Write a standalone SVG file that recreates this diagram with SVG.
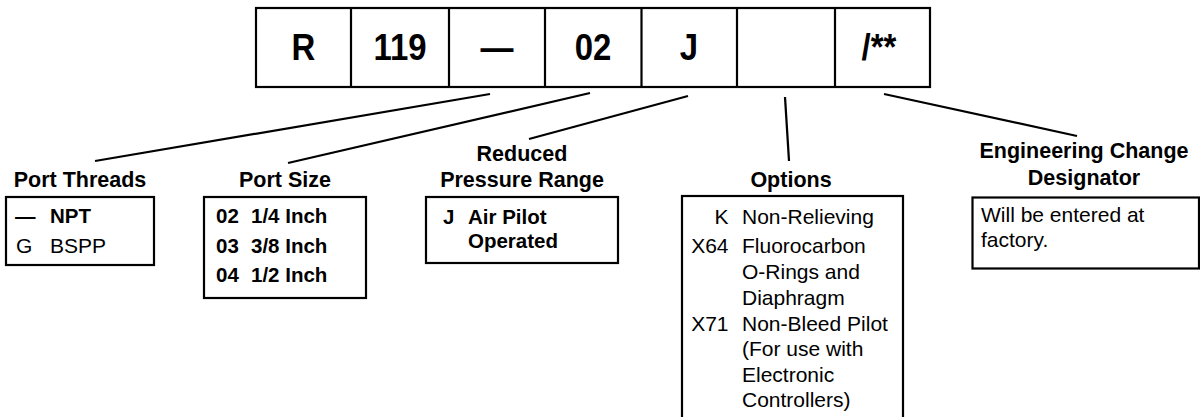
<svg xmlns="http://www.w3.org/2000/svg" width="1200" height="417" viewBox="0 0 1200 417">
<style>
text{font-family:"Liberation Sans",Arial,sans-serif;fill:#000}
.big{font-size:37px;font-weight:bold;text-anchor:middle}
.hd{font-size:21.5px;font-weight:bold;text-anchor:middle}
.b{font-size:20.5px;font-weight:bold}
.r{font-size:21px}
.box{fill:#fff;stroke:#000;stroke-width:2.2}
.ln{stroke:#000;stroke-width:2.2;fill:none}
</style>
<rect width="1200" height="417" fill="#fff"/>
<g id="code">
<rect class="box" x="256" y="8" width="674" height="79"/>
<path class="ln" d="M351 8V87M449 8V87M545 8V87M641.5 8V87M737 8V87M835 8V87"/>
<text class="big" transform="translate(303.5 60) scale(0.89 1)">R</text>
<text class="big" transform="translate(400 60) scale(0.89 1)">119</text>
<text class="big" transform="translate(497 60) scale(0.89 1)">—</text>
<text class="big" transform="translate(593 60) scale(0.89 1)">02</text>
<text class="big" transform="translate(689 60) scale(0.89 1)">J</text>
<text class="big" transform="translate(879 60) scale(0.89 1)">/**</text>
</g>
<g id="connectors">
<line class="ln" x1="490" y1="94" x2="95" y2="161"/>
<line class="ln" x1="590" y1="93" x2="288" y2="163"/>
<line class="ln" x1="688" y1="96" x2="529" y2="139"/>
<line class="ln" x1="785" y1="97" x2="789" y2="161"/>
<line class="ln" x1="884" y1="94" x2="1077" y2="136"/>
</g>
<g id="port-threads">
<text class="hd" x="80" y="187">Port Threads</text>
<rect class="box" x="6" y="197" width="148" height="68"/>
<text class="b" x="15" y="223">—</text>
<text class="b" x="50" y="223">NPT</text>
<text class="r" x="16" y="252.5">G</text>
<text class="r" x="50" y="252.5">BSPP</text>
</g>
<g id="port-size">
<text class="hd" x="285" y="187">Port Size</text>
<rect class="box" x="204" y="197" width="162" height="101"/>
<text class="b" x="216" y="223">02</text>
<text class="b" x="251" y="223">1/4 Inch</text>
<text class="b" x="216" y="252.5">03</text>
<text class="b" x="251" y="252.5">3/8 Inch</text>
<text class="b" x="216" y="281.5">04</text>
<text class="b" x="251" y="281.5">1/2 Inch</text>
</g>
<g id="pressure-range">
<text class="hd" x="522" y="161">Reduced</text>
<text class="hd" x="522" y="187">Pressure Range</text>
<rect class="box" x="426" y="197" width="192" height="66"/>
<text class="b" x="443" y="224">J</text>
<text class="b" x="468" y="224">Air Pilot</text>
<text class="b" x="468" y="248">Operated</text>
</g>
<g id="options">
<text class="hd" x="791" y="187">Options</text>
<rect class="box" x="682" y="196" width="221" height="230"/>
<text class="r" x="728.5" y="224" text-anchor="end">K</text>
<text class="r" x="742" y="224">Non-Relieving</text>
<text class="r" x="728.5" y="253" text-anchor="end">X64</text>
<text class="r" x="742" y="253">Fluorocarbon</text>
<text class="r" x="742" y="279">O-Rings and</text>
<text class="r" x="742" y="305">Diaphragm</text>
<text class="r" x="728.5" y="330.5" text-anchor="end">X71</text>
<text class="r" x="742" y="330.5">Non-Bleed Pilot</text>
<text class="r" x="742" y="356">(For use with</text>
<text class="r" x="742" y="381.5">Electronic</text>
<text class="r" x="742" y="407">Controllers)</text>
</g>
<g id="eng-change">
<text class="hd" x="1084" y="158">Engineering Change</text>
<text class="hd" x="1084" y="185">Designator</text>
<rect class="box" x="972.5" y="197.5" width="226.5" height="71"/>
<text class="r" x="981" y="222">Will be entered at</text>
<text class="r" x="981" y="247">factory.</text>
</g>
</svg>
